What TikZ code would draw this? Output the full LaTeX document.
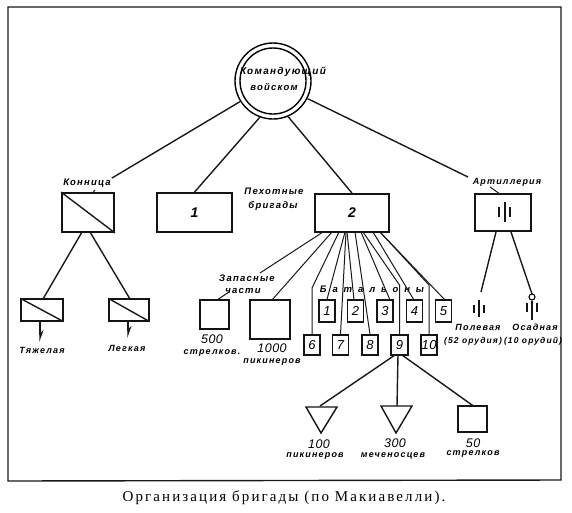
\documentclass[tikz,border=0pt]{standalone}
\usepackage{fontspec}
\usetikzlibrary{arrows.meta}
\setmainfont[LetterSpace=14]{Liberation Serif}
\newfontfamily\lab[LetterSpace=13]{Liberation Sans}
\newfontfamily\labw[LetterSpace=62]{Liberation Sans}
\newfontfamily\labn[LetterSpace=4]{Liberation Sans}
\tikzset{
 ln/.style={line width=1.4pt,black!90},
 tl/.style={line width=1pt,black!90},
 bx/.style={draw=black!92,line width=1.8pt,inner sep=0pt,minimum width=#1,font=\labn\bfseries\itshape\fontsize{14}{14}\selectfont},
 sq/.style={draw=black!92,line width=1.3pt,inner sep=0pt,minimum width=#1,font=\labn\itshape\fontsize{13}{13}\selectfont},
 tx/.style={inner sep=0pt,align=center,font=\lab\bfseries\itshape\fontsize{9}{9}\selectfont},
 nm/.style={inner sep=0pt,font=\labn\itshape\fontsize{12.5}{12.5}\selectfont},
 tri/.style={draw=black!92,line width=1.4pt,line join=miter},
 gun/.style={line width=1.4pt,black!92},
 tip/.style={-{Stealth[harpoon,length=10pt,width=7pt]}},
}
\begin{document}
\begin{tikzpicture}[x=1pt,y=-1pt]
\useasboundingbox (0,0) rectangle (572,512);
% frame
\coordinate (f1) at (8,7); \coordinate (f2) at (561,7); \coordinate (f3) at (561,480); \coordinate (f4) at (8,481);
\draw[line width=1.4pt,black!90] (f1)--(f2)--(f3)--(f4)--cycle;
% commander
\node[circle,draw,line width=1.4pt,minimum size=76pt,inner sep=0pt] (cmd) at (273,81) {};
\node[circle,draw,line width=1.4pt,minimum size=66pt,inner sep=0pt] (cmdi) at (273,81) {};
\node[tx,font=\lab\bfseries\itshape\fontsize{10}{10}\selectfont] (tcmd) at (283,72) {Командующий};
\node[tx,font=\lab\bfseries\itshape\fontsize{9.5}{9.5}\selectfont] (tcmd2) at (274,87) {войском};
% main boxes
\node[bx=52pt,minimum height=39pt] (kon) at (88,212.5) {};
\draw[ln] (kon.north west)--(kon.south east);
\node[bx=75pt,minimum height=39pt] (b1) at (194.5,212.5) {1};
\node[bx=74pt,minimum height=38pt] (b2) at (352,213) {2};
\node[bx=56pt,minimum height=37pt] (art) at (503,212.5) {};
\coordinate (g0) at (505,202); \coordinate (g1) at (505,222);
\draw[gun] (g0)--(g1);
\coordinate (g2) at (499,207); \coordinate (g3) at (499,217);
\draw[gun] (g2)--(g3);
\coordinate (g4) at (510,207); \coordinate (g5) at (510,217);
\draw[gun] (g4)--(g5);
% top labels
\node[tx,font=\lab\bfseries\itshape\fontsize{9.5}{9.5}\selectfont] (tk) at (87,183) {Конница};
\node[tx] (tart) at (507,182) {Артиллерия};
\node[tx,font=\lab\bfseries\itshape\fontsize{9.5}{9.5}\selectfont] (tp1) at (274,191) {Пехотные};
\node[tx,font=\lab\bfseries\itshape\fontsize{9.5}{9.5}\selectfont] (tp2) at (273,206) {бригады};
% commander connectors
\coordinate (ke) at (112,178); \coordinate (ks) at (95,190);
\coordinate (ae) at (468,177); \coordinate (as) at (490,187);
\coordinate (at) at (500,194);
\draw[ln] (cmd.212)--(ke);
\draw[tl] (ks)--(92,193.5);
\draw[ln] (cmd.250)--(b1.north);
\draw[ln] (cmd.-67)--(b2.north);
\draw[ln] (cmd.-27)--(ae);
\draw[tl] (as)--(at);
% cavalry
\node[sq=42pt,minimum height=22pt] (h1) at (42,310) {};
\node[sq=40pt,minimum height=22pt] (h2) at (129,310) {};
\draw[ln] (h1.north west)--(h1.south east);
\draw[ln] (h2.north west)--(h2.south east);
\coordinate (k1) at (82,232); \coordinate (k2) at (90,232);
\coordinate (h1t) at (43,299); \coordinate (h2t) at (130,299);
\draw[ln] (k1)--(h1t);
\draw[ln] (k2)--(h2t);
\coordinate (h1b) at (40,321); \coordinate (h1e) at (40,342);
\coordinate (h2b) at (128,321); \coordinate (h2e) at (128,338);
\draw[ln,tip] (h1b)--(h1e);
\draw[ln,tip] (h2b)--(h2e);
\node[tx] (t1) at (42,350) {Тяжелая};
\node[tx] (t2) at (127,348) {Легкая};
% reserve
\node[tx,font=\lab\bfseries\itshape\fontsize{9.5}{9.5}\selectfont] (tz) at (247,278) {Запасные};
\node[tx,font=\lab\bfseries\itshape\fontsize{9.5}{9.5}\selectfont] (tc) at (243,291) {части};
\node[sq=29pt,minimum height=29pt] (r1) at (214.5,314.5) {};
\node[sq=40pt,minimum height=39pt] (r2) at (270,319.5) {};
\node[nm] (r1n) at (212,339) {500};
\node[tx] (r1t) at (212,353) {стрелков.};
\node[nm] (r2n) at (272,348) {1000};
\node[tx] (r2t) at (272,362) {пикинеров};
\coordinate (s1) at (323,232); \coordinate (s1e) at (260,273);
\draw[tl] (s1)--(s1e);
\coordinate (r1a) at (229,292);
\draw[tl] (r1a)--(217,300);
\coordinate (s2) at (332,232); \coordinate (r2a) at (272,300);
\draw[tl] (s2)--(r2a);
% battalions
\node[sq=16pt,minimum height=22pt] (n1) at (327,311) {1};
\node[sq=16pt,minimum height=22pt] (n2) at (355.5,311) {2};
\node[sq=16pt,minimum height=22pt] (n3) at (385,311) {3};
\node[sq=16pt,minimum height=22pt] (n4) at (414.5,311) {4};
\node[sq=16pt,minimum height=22pt] (n5) at (443.5,311) {5};
\node[sq=16pt,minimum height=20pt] (n6) at (312,345) {6};
\node[sq=16pt,minimum height=20pt] (n7) at (340.5,345) {7};
\node[sq=16pt,minimum height=20pt] (n8) at (370,345) {8};
\node[sq=17pt,minimum height=20pt] (n9) at (399.5,345) {9};
\node[sq=16pt,minimum height=20pt] (n10) at (429,345) {10};
\node[inner sep=0pt,font=\labw\bfseries\itshape\fontsize{9.5}{9.5}\selectfont] (tb) at (372,289) {Батальоны};
\coordinate (a6) at (339,232); \coordinate (b6) at (312,288);
\coordinate (a1) at (345,232);
\coordinate (a7) at (346,232);
\coordinate (a2) at (347,232); 
\coordinate (a8) at (355,232);
\coordinate (a3) at (361,232); 
\coordinate (a9) at (363,232); \coordinate (b9) at (399.5,285);
\coordinate (a4) at (373,232);
\coordinate (a10) at (380,232); \coordinate (b10) at (429,285);
\coordinate (a5) at (380,232);
\draw[tl] (a6)--(b6)--(n6.north);
\draw[tl] (a1)--(n1.north);
\draw[tl] (a7)--(n7.north);
\draw[tl] (a2)--(354,300);
\draw[tl] (a8)--(n8.north);
\draw[tl] (a3)--(390,300);
\draw[tl] (a9)--(b9)--(n9.north);
\draw[tl] (a4)--(414,300);
\draw[tl] (a10)--(b10)--(n10.north);
\draw[tl] (a5)--(445,300);
% artillery
\coordinate (ar1) at (496,232); \coordinate (ar2) at (511,232);
\coordinate (fg) at (481,292); \coordinate (sg) at (532,294);
\draw[ln] (ar1)--(fg);
\draw[ln] (ar2)--(sg);
\coordinate (f0) at (479,300); \coordinate (f1a) at (479,317);
\draw[gun] (f0)--(f1a);
\coordinate (f2a) at (474,305); \coordinate (f3a) at (474,313);
\draw[gun] (f2a)--(f3a);
\coordinate (f4a) at (484,305); \coordinate (f5a) at (484,313);
\draw[gun] (f4a)--(f5a);
\node[circle,draw,line width=1.1pt,minimum size=6pt,inner sep=0pt] (sc) at (532,297) {};
\coordinate (o1) at (532,320);
\draw[gun] (sc.south)--(o1);
\coordinate (o2) at (527,303); \coordinate (o3) at (527,312);
\draw[gun] (o2)--(o3);
\coordinate (o4) at (537,303); \coordinate (o5) at (537,312);
\draw[gun] (o4)--(o5);
\node[tx] (t3) at (478,327) {Полевая};
\node[tx] (t4) at (535,327) {Осадная};
\node[tx,font=\lab\bfseries\itshape\fontsize{8.5}{8.5}\selectfont] (t5) at (473,341) {(52 орудия)};
\node[tx,font=\lab\bfseries\itshape\fontsize{8.5}{8.5}\selectfont] (t6) at (533,341) {(10 орудий)};
% battalion 9 detail
\coordinate (t1a) at (306,407); \coordinate (t1b) at (337,407); \coordinate (t1c) at (321,433);
\draw[tri] (t1a)--(t1b)--(t1c)--cycle;
\coordinate (t2a) at (381,406); \coordinate (t2b) at (412,406); \coordinate (t2c) at (396,433);
\draw[tri] (t2a)--(t2b)--(t2c)--cycle;
\node[sq=29pt,minimum height=26pt] (sq9) at (472.5,419) {};
\coordinate (u1) at (320,406); \coordinate (u2) at (397,406);
\coordinate (v1) at (395,355); \coordinate (v2) at (398,355); \coordinate (v3) at (402,355);
\draw[ln] (v1)--(u1);
\draw[ln] (v2)--(u2);
\draw[ln] (v3)--(sq9.north);
\node[nm] (m1) at (319,444) {100};
\node[tx] (m2) at (315,456) {пикинеров};
\node[nm] (m3) at (395,443) {300};
\node[tx] (m4) at (393,456) {меченосцев};
\node[nm] (m5) at (473,443) {50};
\node[tx] (m6) at (473,454) {стрелков};
% caption
\node[inner sep=0pt,font=\fontsize{15}{16}\selectfont] (cap) at (284,498) {Организация бригады (по Макиавелли).};
\end{tikzpicture}
\end{document}
